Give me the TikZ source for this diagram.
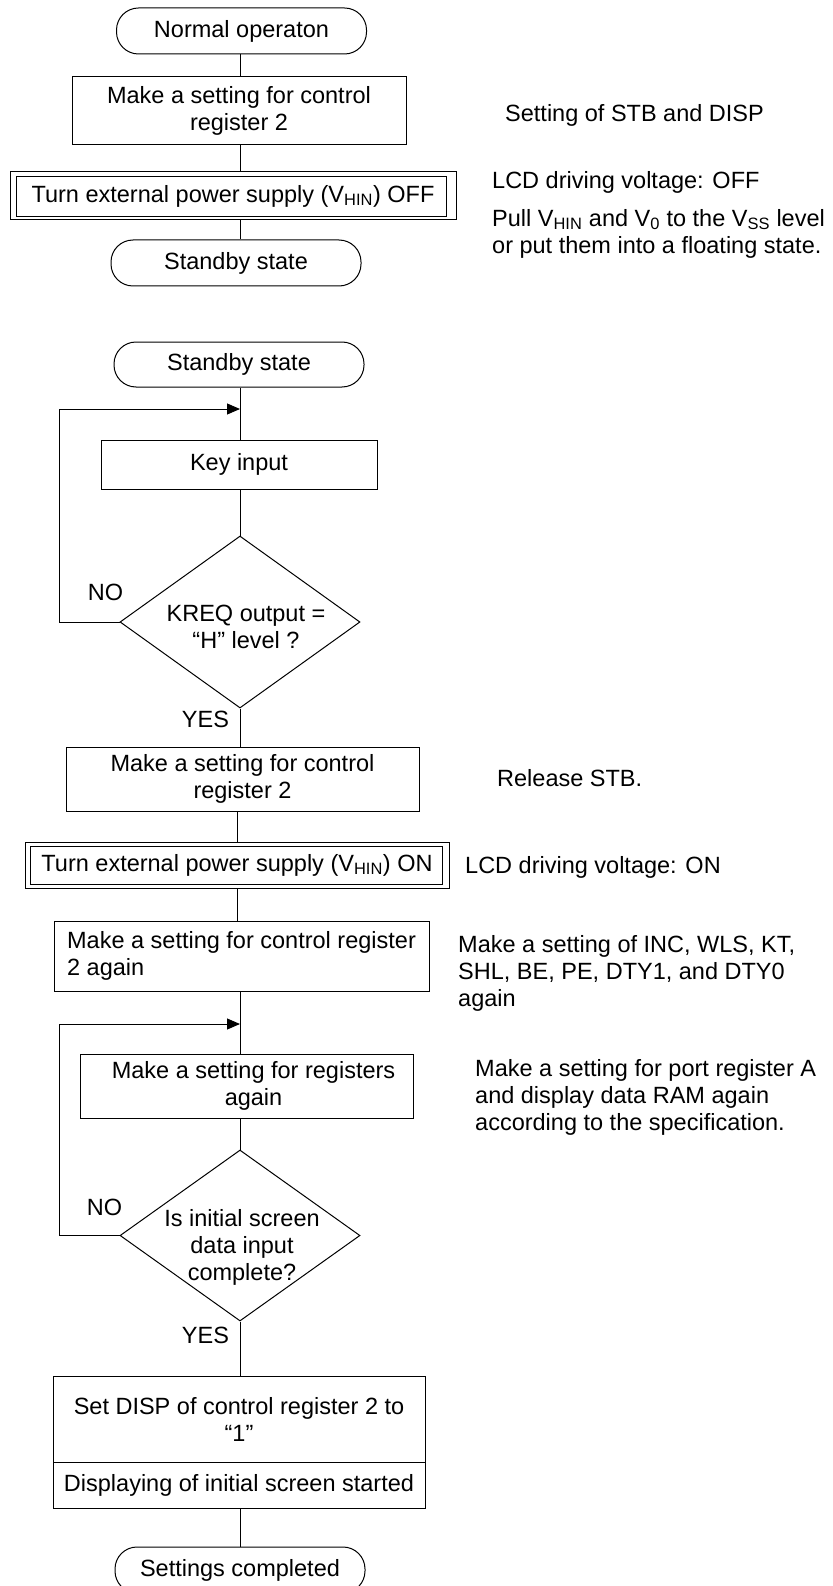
\documentclass[tikz,border=0pt]{standalone}
\usepackage{fontspec}
\setmainfont{Liberation Sans}
\usetikzlibrary{arrows.meta,shapes.geometric}
\begin{document}
\begin{tikzpicture}[x=1pt,y=-1pt,
  every node/.style={font=\fontsize{23.5}{27}\selectfont},
  ln/.style={line width=1pt,draw=black},
  term/.style={ln,rectangle,rounded corners=22pt,minimum width=250pt,minimum height=46pt,inner sep=0pt},
  boxs/.style={ln,rectangle,minimum height=46pt,inner sep=0pt,align=center},
  dia/.style={ln,diamond,minimum width=240pt,minimum height=172pt,inner sep=0pt},
  note/.style={anchor=west,inner sep=0pt,align=left},
  lbl/.style={inner sep=0pt},
  conn/.style={line width=1pt},
  loopar/.style={line width=1pt,-{Triangle[length=13pt,width=11pt]}}
]
\clip (0,0) rectangle (832,1586);
\fill[white] (0,0) rectangle (832,1586);
\coordinate (cx) at (240,0);
\coordinate (cy) at (237,0);

% ---- upper flow ----
\node[term] (t1) at (241.5,31) {Normal operaton};
\node[boxs,minimum width=334pt,minimum height=68pt] (b1) at (239,111) {Make a setting for control\\register 2};
\node[boxs,minimum width=446pt,minimum height=48pt] (off) at (233,196) {Turn external power supply (V\textsubscript{HIN}) OFF};
\draw[ln] ([shift={(7,5)}]off.north west) rectangle ([shift={(-10,-4)}]off.south east);
\node[term] (t2) at (236,263) {Standby state};

\draw[conn] (t1.south -| cx) -- (b1.north -| cx);
\draw[conn] (b1.south -| cx) -- (off.north -| cx);
\draw[conn] (off.south -| cx) -- (t2.north -| cx);

\node[note] (n1) at (505,115) {Setting of STB and DISP};
\node[note] (n2) at (492,182) {LCD driving voltage: OFF};
\node[note] (n3) at (492,233.5) {Pull V\textsubscript{HIN} and V\textsubscript{0} to the V\textsubscript{SS} level\\or put them into a floating state.};

% ---- lower flow ----
\node[term,minimum height=45pt] (t3) at (239,364.5) {Standby state};
\node[boxs,minimum width=276pt,minimum height=49pt] (k) at (239,464.5) {Key input};
\node[dia] (d1) at (240,622) {};
\node[lbl,align=center] (d1t) at (246,627) {KREQ output =\\“H” level ?};
\node[lbl] (no1) at (105.5,592) {NO};
\node[lbl] (yes1) at (205.5,719) {YES};

\coordinate (j1) at (240,409);
\coordinate (l1) at (59,409);
\draw[conn] (t3.south -| cx) -- (k.north -| cx);
\draw[loopar] (d1.west) -- (d1.west -| l1) -- (l1) -- (j1);
\draw[conn] (k.south -| cx) -- (d1.north);

\node[boxs,minimum width=353pt,minimum height=64pt] (b2) at (242.5,779) {Make a setting for control\\register 2};
\node[boxs,minimum width=424pt,minimum height=46pt] (on) at (237,865) {Turn external power supply (V\textsubscript{HIN}) ON};
\draw[ln] ([shift={(6,5)}]on.north west) rectangle ([shift={(-7,-4)}]on.south east);
\node[boxs,minimum width=375pt,minimum height=70pt,align=left] (b3) at (241.5,956) {Make a setting for control register\\2 again};

\draw[conn] (d1.south) -- (b2.north -| cx);
\draw[conn] (b2.south -| cy) -- (on.north -| cy);
\draw[conn] (on.south -| cy) -- (b3.north -| cy);

\node[note] (n4) at (497,778) {Release STB.};
\node[note] (n5) at (465,867) {LCD driving voltage: ON};
\node[note] (n6) at (458,973) {Make a setting of INC, WLS, KT,\\SHL, BE, PE, DTY1, and DTY0\\again};
\node[note] (n7) at (475,1097) {Make a setting for port register A\\and display data RAM again\\according to the specification.};

\node[boxs,minimum width=333pt,minimum height=64pt] (b4) at (246.5,1086) {\hspace*{14pt}Make a setting for registers\\\hspace*{14pt}again};
\node[dia,minimum height=171pt] (d2) at (240,1235.5) {};
\node[lbl,align=center] (d2t) at (242,1247) {Is initial screen\\data input\\complete?};
\node[lbl] (no2) at (104.5,1207) {NO};
\node[lbl] (yes2) at (205.5,1335) {YES};

\coordinate (j2) at (240,1024);
\coordinate (l2) at (59,1024);
\draw[conn] (b3.south -| cx) -- (b4.north -| cx);
\draw[loopar] (d2.west) -- (d2.west -| l2) -- (l2) -- (j2);
\draw[conn] (b4.south -| cx) -- (d2.north);

\node[boxs,minimum width=372pt,minimum height=86pt] (b5) at (239,1419) {Set DISP of control register 2 to\\“1”};
\node[boxs,minimum width=372pt,minimum height=46pt] (b6) at (239,1485) {Displaying of initial screen started};
\node[term] (t4) at (240,1570) {Settings completed};

\draw[conn] (d2.south) -- (b5.north -| cx);
\draw[conn] (b6.south -| cx) -- (t4.north -| cx);
\end{tikzpicture}
\end{document}
